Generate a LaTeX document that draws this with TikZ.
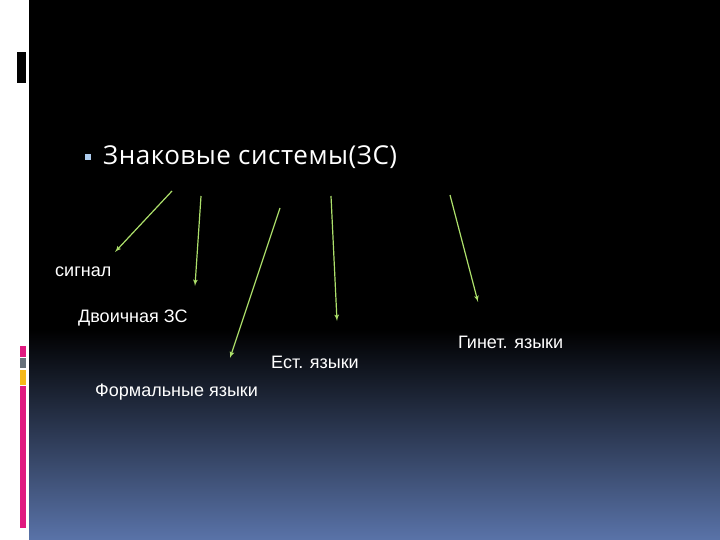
\documentclass[tikz,border=0pt]{standalone}
\usepackage{fontspec}
\usepackage{tikz}
\usetikzlibrary{arrows}
\setmainfont{Liberation Sans}
\newfontfamily\titlefont[LetterSpace=2]{Open Sans}
\tikzset{garrow/.style = {draw=mgreen, line width=1.2, -latex'}}
\tikzset{lbl/.style = {text=white, inner sep=0, anchor=west, font=\fontsize{18}{20}\selectfont}}
\definecolor{mgreen}{rgb}{0.68, 0.88, 0.42}
\definecolor{mblue}{rgb}{0.35, 0.45, 0.66}
\definecolor{mbullet}{rgb}{0.68, 0.8, 0.93}
\definecolor{mpink}{rgb}{0.88, 0.1, 0.5}
\definecolor{mgray}{rgb}{0.4, 0.44, 0.48}
\definecolor{myellow}{rgb}{0.96, 0.72, 0.1}
\begin{document}
\begin{tikzpicture}[x=1pt, y=-1pt]
    \useasboundingbox (0, 0) rectangle (720, 540);
    \fill [white] (0, 0) rectangle (720, 540);

    % background
    \fill [black] (29, 0) rectangle (720, 330);
    \shade [top color=black, bottom color=mblue] (29, 329) rectangle (720, 540);

    % left side marks
    \fill [black] (17, 52) rectangle (26, 83);
    \fill [mpink] (20, 346) rectangle (26, 357);
    \fill [mgray] (20, 358) rectangle (26, 368);
    \fill [myellow] (20, 370) rectangle (26, 385);
    \fill [mpink] (20, 386) rectangle (26, 528);

    \fill [mbullet] (85, 154) rectangle (91, 160);
    \node (title) [text=white, inner sep=0, anchor=west, font=\titlefont\fontsize{26}{30}\selectfont] at (103, 157) {Знаковые системы(ЗС)};

    \node (signal) [lbl] at (55, 272) {сигнал};
    \node (binary) [lbl] at (78, 318) {Двоичная ЗС};
    \node (natural) [lbl] at (271, 362) {Ест. языки};
    \node (formal) [lbl] at (95, 392) {Формальные языки};
    \node (genet) [lbl] at (458, 342) {Гинет. языки};

    \coordinate (s1) at (172, 191);
    \coordinate (e1) at (115, 252);
    \coordinate (s2) at (201, 196);
    \coordinate (e2) at (195, 286);
    \coordinate (s3) at (280, 208);
    \coordinate (e3) at (230, 358);
    \coordinate (s4) at (331, 196);
    \coordinate (e4) at (337, 321);
    \coordinate (s5) at (450, 195);
    \coordinate (e5) at (478, 302);

    \draw [garrow] (s1) -- (e1);
    \draw [garrow] (s2) -- (e2);
    \draw [garrow] (s3) -- (e3);
    \draw [garrow] (s4) -- (e4);
    \draw [garrow] (s5) -- (e5);
\end{tikzpicture}
\end{document}
